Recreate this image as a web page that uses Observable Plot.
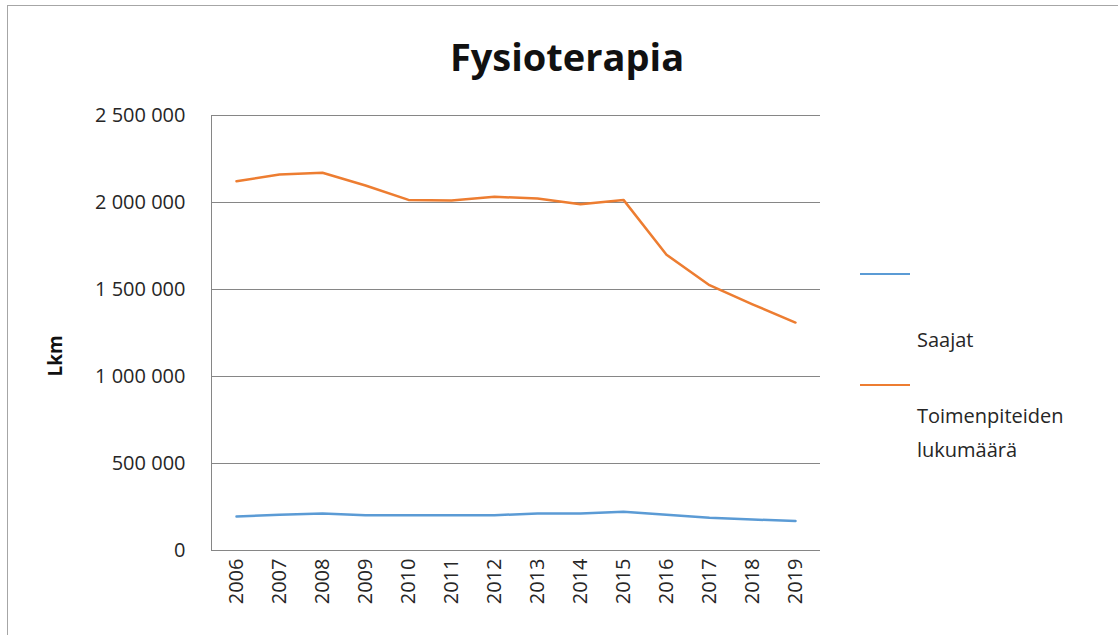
<!DOCTYPE html>
<html>
<head>
<meta charset="utf-8">
<script src="https://cdn.jsdelivr.net/npm/d3@7"></script>
<script src="https://cdn.jsdelivr.net/npm/@observablehq/plot@0.6"></script>
<style>
  body { margin: 0; background: #fff; }
  #wrap { position: relative; width: 1118px; height: 635px; overflow: hidden; font-family: "Open Sans", sans-serif; color: #262626; background: #fff; }
  #border { position: absolute; left: 7px; top: 5px; width: 1130px; height: 650px; border: 1px solid #a6a6a6; box-sizing: border-box; pointer-events: none; }
  #chart { position: absolute; left: 0; top: 0; }
  #title { position: absolute; left: 0; width: 1134px; top: 30px; text-align: center; font-weight: bold; font-size: 38px; line-height: 52px; color: #111; }
  #ylabel { position: absolute; left: 55px; top: 356px; transform: translate(-50%, -50%) rotate(-90deg); font-weight: bold; font-size: 19px; color: #111; }
  .legline { position: absolute; left: 860px; width: 50px; height: 0; border-top: 2.5px solid; }
  .legtext { position: absolute; left: 917px; font-size: 20px; line-height: 34px; color: #262626; }
</style>
</head>
<body>
<div id="wrap">
  <div id="chart"></div>
  <div id="title"></div>
  <div id="ylabel"></div>
  <div id="legend"></div>
  <div id="border"></div>
</div>
<script>
const title = "Fysioterapia";
const yLabel = "Lkm";
const years = [2006, 2007, 2008, 2009, 2010, 2011, 2012, 2013, 2014, 2015, 2016, 2017, 2018, 2019];
const seriesNames = ["Saajat", "Toimenpiteiden lukumäärä"];
const seriesColors = ["#5B9BD5", "#ED7D31"];
const saajat = [195000, 205000, 213000, 203000, 203000, 203000, 203000, 212000, 213000, 222000, 205000, 188000, 178000, 170000];
const toimenpiteet = [2122000, 2161000, 2171000, 2098000, 2015000, 2012000, 2033000, 2023000, 1990000, 2015000, 1700000, 1525000, 1415000, 1310000];
const yTicks = [0, 500000, 1000000, 1500000, 2000000, 2500000];

const rows = [];
years.forEach((yr, i) => {
  rows.push({ year: String(yr), value: saajat[i], series: seriesNames[0] });
});
years.forEach((yr, i) => {
  rows.push({ year: String(yr), value: toimenpiteet[i], series: seriesNames[1] });
});

const fmt = d3.formatLocale({ decimal: ",", thousands: "\u00a0", grouping: [3], currency: ["", " €"] }).format(",d");

const chart = Plot.plot({
  width: 1118,
  height: 635,
  marginLeft: 211,
  marginRight: 298,
  marginTop: 115,
  marginBottom: 85,
  style: { fontFamily: "Open Sans, sans-serif", color: "#262626", background: "transparent" },
  x: { type: "point", domain: years.map(String), padding: 0.5, label: null },
  y: { domain: [0, 2500000], label: null },
  color: { domain: seriesNames, range: seriesColors },
  marks: [
    Plot.gridY(yTicks, { stroke: "#868686", strokeOpacity: 1, strokeWidth: 1 }),
    Plot.axisY(yTicks, { tickSize: 0, tickPadding: 26, tickFormat: fmt, fontSize: 20, label: null }),
    Plot.axisX({ tickSize: 0, tickRotate: -90, tickPadding: 8, fontSize: 20, label: null }),
    Plot.ruleY([0], { stroke: "#868686", strokeWidth: 1 }),
    Plot.frame({ anchor: "left", stroke: "#868686", strokeWidth: 1 }),
    Plot.line(rows, { x: "year", y: "value", z: "series", stroke: "series", strokeWidth: 2.5 })
  ]
});
document.getElementById("chart").appendChild(chart);
document.getElementById("title").textContent = title;
document.getElementById("ylabel").textContent = yLabel;

const legend = document.getElementById("legend");
const legendItems = [
  { lineTop: 273, textTop: 323, lines: [seriesNames[0]] },
  { lineTop: 384, textTop: 399, lines: ["Toimenpiteiden", "lukumäärä"] }
];
legendItems.forEach((item, i) => {
  const l = document.createElement("div");
  l.className = "legline";
  l.style.top = item.lineTop + "px";
  l.style.borderTopColor = seriesColors[i];
  legend.appendChild(l);
  const t = document.createElement("div");
  t.className = "legtext";
  t.style.top = item.textTop + "px";
  t.innerHTML = item.lines.join("<br>");
  legend.appendChild(t);
});
</script>
</body>
</html>
